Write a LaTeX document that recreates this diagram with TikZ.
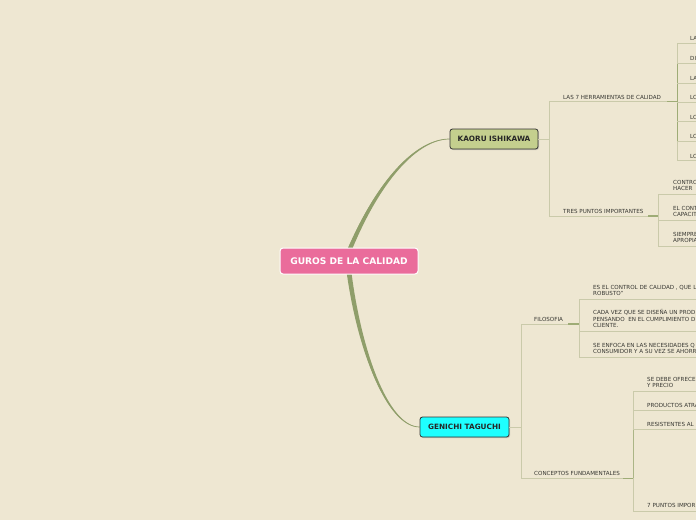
\documentclass[tikz,border=0pt]{standalone}
\usepackage{fontspec}
\setmainfont{DejaVu Sans}
\usetikzlibrary{shadows,backgrounds}
\definecolor{bg}{RGB}{238,231,210}
\definecolor{branchc}{RGB}{143,158,106}
\definecolor{thinc}{RGB}{202,202,170}
\definecolor{darkseg}{RGB}{158,172,118}
\definecolor{pinkc}{RGB}{234,108,155}
\definecolor{cyanc}{RGB}{30,255,255}
\definecolor{kaoruc}{RGB}{196,207,142}
\definecolor{txtc}{RGB}{55,55,50}
\tikzset{
  root/.style={draw=white, line width=1pt, fill=pinkc, rounded corners=3pt, text=white,
    font=\fontsize{9.1}{10}\selectfont\bfseries, minimum width=138pt, minimum height=26pt, inner sep=0pt},
  mainbox/.style={draw=black!80, line width=0.8pt, rounded corners=2.5pt, text=black!85,
    font=\fontsize{7.3}{8}\selectfont\bfseries, minimum height=20pt, inner sep=0pt,
    drop shadow={shadow xshift=1pt, shadow yshift=-1pt, opacity=0.35}},
  leaf/.style={anchor=south west, inner sep=0pt, text depth=0pt, align=left, text=txtc,
    font=\fontsize{5.6}{6.6}\selectfont},
  tl/.style={draw=thinc, line width=0.7pt},
  ds/.style={draw=darkseg, line width=1.3pt},
}
\begin{document}
\begin{tikzpicture}[x=1pt,y=-1pt]
\useasboundingbox (0,0) rectangle (696,520);
\clip (0,0) rectangle (696,520);
% main nodes
\node[root] (guros) at (349,261) {GUROS DE LA CALIDAD};
\node[mainbox, fill=kaoruc, minimum width=88pt] (kaoru) at (494,139) {KAORU ISHIKAWA};
\node[mainbox, fill=cyanc, minimum width=89pt] (taguchi) at (464.5,427) {GENICHI TAGUCHI};
% background and main branches
\begin{scope}[on background layer]
\fill[bg] (0,0) rectangle (696,520);
\fill[branchc] ([xshift=-2.6pt,yshift=-4pt]guros.north) .. controls (377,180) and (416,139) .. (kaoru.west)
  .. controls (417,140) and (380,181) .. ([xshift=2.2pt,yshift=-4pt]guros.north) -- cycle;
\draw[branchc, line width=0.7pt] (guros.north) .. controls (378,180) and (416,139) .. (kaoru.west);
\fill[branchc] ([xshift=-2.6pt,yshift=4pt]guros.south) .. controls (357,350) and (387,427) .. (taguchi.west)
  .. controls (388,426) and (361,350) .. ([xshift=2.2pt,yshift=4pt]guros.south) -- cycle;
\draw[branchc, line width=0.7pt] (guros.south) .. controls (358,350) and (387,427) .. (taguchi.west);
\end{scope}
% ---- Kaoru Ishikawa subtree
\node[leaf] (herr) at (563,99.2) {LAS 7 HERRAMIENTAS DE CALIDAD};
\node[leaf] (tres) at (563,213.5) {TRES PUNTOS IMPORTANTES};
\coordinate (kv) at (549,139);
\draw[tl] (kaoru.east) -- (kv);
\draw[tl] (549,101.7) -- (549,216);
\draw[tl] (549,101.7) -- (677,101.7);
\draw[ds] (667,101.7) -- (677,101.7);
\draw[tl] (677,43.3) -- (677,160.7);
\draw[draw=darkseg, line width=1pt] (677,63.3) -- (677,141.7);
\node[leaf] (k1) at (690,40.8) {LA};
\node[leaf] (k2) at (690,60.8) {DI};
\node[leaf] (k3) at (690,80.3) {LA};
\node[leaf] (k4) at (690,99.8) {LO};
\node[leaf] (k5) at (690,119.2) {LO};
\node[leaf] (k6) at (690,138.7) {LO};
\node[leaf] (k7) at (690,158.2) {LO};
\foreach \yy in {43.3,63.3,83.3,102.7,121.7,141.7,160.7}{\draw[tl] (677,\yy) -- (700,\yy);}
\draw[tl] (549,216) -- (658,216);
\draw[ds] (648,216) -- (658,216);
\draw[tl] (658,194) -- (658,246);
\node[leaf] (t1) at (673,191) {CONTRO\\HACER};
\node[leaf] (t2) at (673,217) {EL CONT\\CAPACIT};
\node[leaf] (t3) at (673,243) {SIEMPRE\\APROPIA};
\foreach \yy in {194,220,246}{\draw[tl] (658,\yy) -- (700,\yy);}
% ---- Genichi Taguchi subtree
\node[leaf] (filo) at (534,321.5) {FILOSOFIA};
\node[leaf] (conc) at (534,475.5) {CONCEPTOS FUNDAMENTALES};
\draw[tl] (taguchi.east) -- (521,427);
\draw[tl] (521,324) -- (521,478.3);
\draw[tl] (521,324) -- (579,324);
\draw[ds] (568,324) -- (579,324);
\draw[tl] (579,299) -- (579,357);
\node[leaf] (f1) at (593,296) {ES EL CONTROL DE CALIDAD , QUE L\\ROBUSTO"};
\node[leaf] (f2) at (593,328) {CADA VEZ QUE SE DISEÑA UN PROD\\PENSANDO\ \ EN EL CUMPLIMIENTO D\\CLIENTE.};
\node[leaf] (f3) at (593,354) {SE ENFOCA EN LAS NECESIDADES Q\\CONSUMIDOR Y A SU VEZ SE AHORR};
\foreach \yy in {299,331,357}{\draw[tl] (579,\yy) -- (700,\yy);}
\draw[tl] (521,478.3) -- (633,478.3);
\draw[ds] (623,478.3) -- (633,478.3);
\draw[tl] (633,391) -- (633,511);
\draw[draw=darkseg!70!thinc, line width=0.9pt] (633,430) -- (633,478.3);
\node[leaf] (c1) at (647,388) {SE DEBE OFRECE\\Y PRECIO};
\node[leaf] (c2) at (647,408) {PRODUCTOS ATRA};
\node[leaf] (c3) at (647,427) {RESISTENTES AL};
\node[leaf] (c4) at (647,508) {7 PUNTOS IMPOR};
\foreach \yy in {391,410.7,429.7,511}{\draw[tl] (633,\yy) -- (700,\yy);}
\end{tikzpicture}
\end{document}
